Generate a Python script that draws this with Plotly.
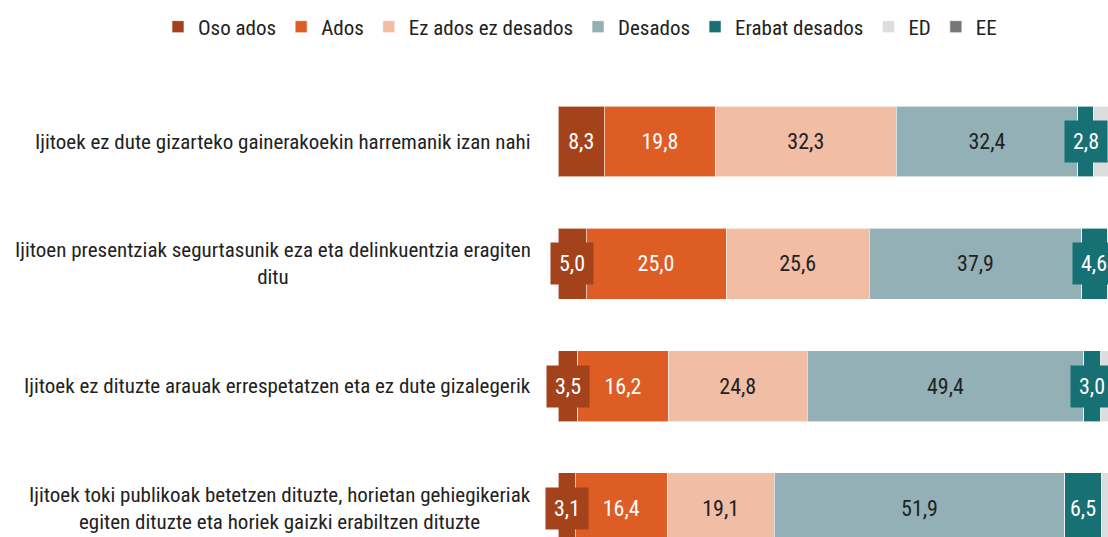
import plotly.graph_objects as go

categories = [
    "Ijitoek ez dute gizarteko gainerakoekin harremanik izan nahi",
    "Ijitoen presentziak segurtasunik eza eta delinkuentzia eragiten<br>ditu",
    "Ijitoek ez dituzte arauak errespetatzen eta ez dute gizalegerik",
    "Ijitoek toki publikoak betetzen dituzte, horietan gehiegikeriak<br>egiten dituzte eta horiek gaizki erabiltzen dituzte",
]
series_names = ["Oso ados", "Ados", "Ez ados ez desados", "Desados", "Erabat desados", "ED", "EE"]
oso_ados = [8.3, 5.0, 3.5, 3.1]
ados = [19.8, 25.0, 16.2, 16.4]
ez_ados = [32.3, 25.6, 24.8, 19.1]
desados = [32.4, 37.9, 49.4, 51.9]
erabat = [2.8, 4.6, 3.0, 6.5]
ed = [4.4, 1.9, 3.1, 3.0]
ee = [0.0, 0.0, 0.0, 0.0]

values = [oso_ados, ados, ez_ados, desados, erabat, ed, ee]
colors = ["#a4431b", "#dd5d24", "#f1bda5", "#93b0b6", "#167074", "#dcdddf", "#76777a"]
text_colors = ["white", "white", "#222222", "#222222", "white", None, None]
show_text = [True, True, True, True, True, False, False]

FONT = "Liberation Sans Narrow, Roboto Condensed, DejaVu Sans Condensed, Roboto, sans-serif"
SMALL = 6.0
W, H = 1108, 537
PLOT_LEFT = 558
PLOT_TOP = 80
PX_PER_PCT = 5.6
PX_PER_ROW = 122.3

def fmt(v):
    return f"{v:.1f}".replace(".", ",")

ypos = list(range(len(categories)))
fig = go.Figure()
annotations = []
cum = [0.0] * len(categories)
for name, vals, col, tcol, st in zip(series_names, values, colors, text_colors, show_text):
    texts = []
    for i, v in enumerate(vals):
        if st and v >= SMALL:
            texts.append(fmt(v))
        else:
            texts.append("")
        if st and 0 < v < SMALL:
            annotations.append(dict(
                x=cum[i] + v / 2, y=ypos[i], xref="x", yref="y",
                text=fmt(v), showarrow=False, bgcolor=col, borderpad=8,
                font=dict(family=FONT, size=22, color=tcol),
                xanchor="center", yanchor="middle",
            ))
        cum[i] += v
    fig.add_trace(go.Bar(
        name=name, x=vals, y=ypos, orientation="h",
        marker=dict(color=col, line=dict(color="rgba(255,255,255,0.6)", width=1)),
        text=texts, textposition="inside", insidetextanchor="middle",
        textfont=dict(family=FONT, size=22, color=tcol if tcol else "white"),
        constraintext="none", hoverinfo="skip",
    ))

for i, c in enumerate(categories):
    annotations.append(dict(
        x=533 / W, y=ypos[i], xref="paper", yref="y", text=c, showarrow=False,
        xanchor="right", yanchor="middle", align="center",
        font=dict(family=FONT, size=21, color="#222222"),
    ))

x_max = (W - PLOT_LEFT) / PX_PER_PCT
y_top = -0.503
y_bottom = y_top + (H - PLOT_TOP) / PX_PER_ROW

fig.update_layout(
    width=W, height=H,
    margin=dict(l=0, r=0, t=0, b=0, autoexpand=False),
    barmode="stack", bargap=0.42,
    plot_bgcolor="white", paper_bgcolor="white",
    font=dict(family=FONT, size=20, color="#222222"),
    xaxis=dict(range=[0, x_max], domain=[PLOT_LEFT / W, 1], visible=False, fixedrange=True),
    yaxis=dict(range=[y_bottom, y_top], domain=[0, 1 - PLOT_TOP / H], visible=False, fixedrange=True),
    legend=dict(orientation="h", xref="paper", yref="paper",
                x=580 / W, y=1 - 27 / H, xanchor="center", yanchor="middle",
                font=dict(family=FONT, size=21, color="#222222"),
                traceorder="normal", itemclick=False),
    annotations=annotations,
    showlegend=True,
)
fig.write_html(
    "out.html",
    config={"displayModeBar": False},
    post_script="document.body.style.margin='0';document.body.style.overflow='hidden';",
)
